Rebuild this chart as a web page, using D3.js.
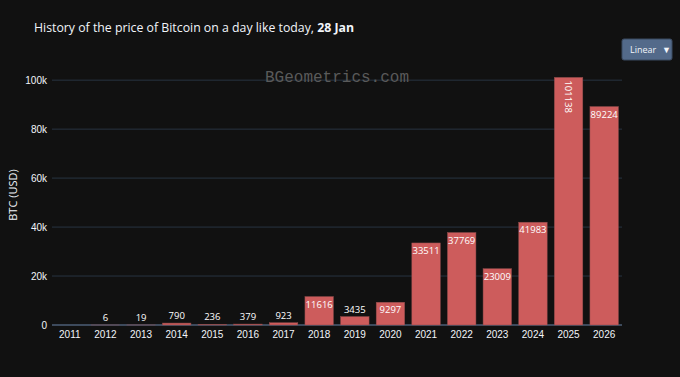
<!DOCTYPE html>
<html>
<head>
<meta charset="utf-8">
<script src="https://cdn.jsdelivr.net/npm/d3@7"></script>
<style>
  body { margin: 0; background: #111111; }
  svg { display: block; font-family: "Open Sans", "Noto Sans", sans-serif; }
</style>
</head>
<body>
<div id="chart"></div>
<script>
// chart data
const years = ["2011", "2012", "2013", "2014", "2015", "2016", "2017", "2018",
  "2019", "2020", "2021", "2022", "2023", "2024", "2025", "2026"];
const prices = [0, 6, 19, 790, 236, 379, 923, 11616, 3435, 9297, 33511, 37769,
  23009, 41983, 101138, 89224];
const yTicks = [0, 20000, 40000, 60000, 80000, 100000];

const width = 680, height = 377;
const margin = { top: 65, right: 58, bottom: 52, left: 52 };

const svg = d3.select("#chart").append("svg")
  .attr("width", width)
  .attr("height", height);

svg.append("rect").attr("width", width).attr("height", height).attr("fill", "#111111");

const x = d3.scaleBand()
  .domain(years)
  .range([margin.left, width - margin.right])
  .paddingInner(0.2)
  .paddingOuter(0.1);

const y = d3.scaleLinear()
  .domain([0, d3.max(prices) * 1.05])
  .range([height - margin.bottom, margin.top]);

// grid
svg.append("g")
  .selectAll("line")
  .data(yTicks)
  .join("line")
  .attr("x1", margin.left)
  .attr("x2", width - margin.right)
  .attr("y1", d => y(d))
  .attr("y2", d => y(d))
  .attr("stroke", d => d === 0 ? "#3d4a5c" : "#283442")
  .attr("stroke-width", d => d === 0 ? 2 : 1);

// watermark
svg.append("text")
  .attr("x", 337)
  .attr("y", 82)
  .attr("text-anchor", "middle")
  .attr("font-family", "'Liberation Mono', 'DejaVu Sans Mono', monospace")
  .attr("font-size", 16)
  .attr("fill", "#5a5a5a")
  .text("BGeometrics.com");

// y axis
const yAxis = d3.axisLeft(y)
  .tickValues(yTicks)
  .tickSize(0)
  .tickPadding(5)
  .tickFormat(d => d === 0 ? "0" : d3.format("~s")(d));

svg.append("g")
  .attr("transform", `translate(${margin.left},0)`)
  .call(yAxis)
  .call(g => g.select(".domain").remove())
  .selectAll("text")
  .attr("fill", "#f2f5fa")
  .attr("font-size", 10);

// x axis
const xAxis = d3.axisBottom(x).tickSize(0).tickPadding(6);
svg.append("g")
  .attr("transform", `translate(0,${y(0)})`)
  .call(xAxis)
  .call(g => g.select(".domain").remove())
  .selectAll("text")
  .attr("fill", "#f2f5fa")
  .attr("font-size", 10);

// bars
svg.append("g")
  .selectAll("rect")
  .data(prices)
  .join("rect")
  .attr("x", (d, i) => x(years[i]))
  .attr("width", x.bandwidth())
  .attr("y", d => y(d))
  .attr("height", d => y(0) - y(d))
  .attr("fill", "#cd5c5c")
  .attr("stroke", "#8a4a4a")
  .attr("stroke-width", 0.5);

// value labels: inside if it fits, rotated inside if too wide, else above
const labels = svg.append("g")
  .attr("font-size", 9.5)
  .attr("fill", "#ffffff");

prices.forEach((d, i) => {
  if (!d) return;
  const cx = x(years[i]) + x.bandwidth() / 2;
  const barH = y(0) - y(d);
  const t = labels.append("text").text(String(d));
  const textW = t.node().getComputedTextLength();
  if (barH > 14 && textW <= x.bandwidth()) {
    t.attr("x", cx).attr("y", y(d) + 11).attr("text-anchor", "middle");
  } else if (barH > textW + 4) {
    t.attr("transform", `translate(${cx - 3.5},${y(d) + 3}) rotate(90)`)
      .attr("text-anchor", "start");
  } else {
    t.attr("x", cx).attr("y", y(d) - 4).attr("text-anchor", "middle");
  }
});

// y axis title
svg.append("text")
  .attr("transform", `translate(17,${(y(0) + margin.top) / 2}) rotate(-90)`)
  .attr("text-anchor", "middle")
  .attr("font-size", 11)
  .attr("fill", "#f2f5fa")
  .text("BTC (USD)");

// title
const title = svg.append("text")
  .attr("x", 34)
  .attr("y", 32)
  .attr("font-size", 12.3)
  .attr("fill", "#f2f5fa");
title.append("tspan").text("History of the price of Bitcoin on a day like today, ");
title.append("tspan").attr("font-weight", "bold").text("28 Jan");

// scale dropdown button
const btn = svg.append("g").attr("transform", "translate(622,39)");
btn.append("rect")
  .attr("width", 50)
  .attr("height", 21)
  .attr("rx", 2)
  .attr("fill", "#536a8a")
  .attr("stroke", "#3b4a60");
btn.append("text")
  .attr("x", 8)
  .attr("y", 14)
  .attr("font-size", 9)
  .attr("fill", "#f2f5fa")
  .text("Linear");
btn.append("text")
  .attr("x", 40)
  .attr("y", 14)
  .attr("font-size", 9)
  .attr("fill", "#f2f5fa")
  .text("▼");
</script>
</body>
</html>
